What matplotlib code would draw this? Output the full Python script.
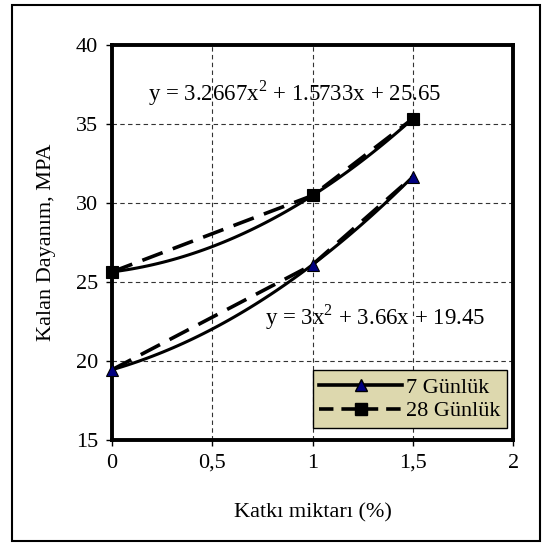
import numpy as np
import matplotlib
matplotlib.use("Agg")
import matplotlib.pyplot as plt
from matplotlib.lines import Line2D
from matplotlib.patches import Rectangle

# data
katki = [0, 1, 1.5]
gun7 = [19.45, 26.11, 31.69]
gun28 = [25.65, 30.49, 35.36]
labels = ["7 Günlük", "28 Günlük"]
eq7 = "y = 3x$^2$ + 3.66x + 19.45"
eq28 = "y = 3.2667x$^2$ + 1.5733x + 25.65"
xticks = [0, 0.5, 1, 1.5, 2]
xticklabels = ["0", "0,5", "1", "1,5", "2"]
yticks = [15, 20, 25, 30, 35, 40]

plt.rcParams["font.family"] = ["Liberation Serif", "DejaVu Serif"]
plt.rcParams["mathtext.fontset"] = "custom"
plt.rcParams["mathtext.rm"] = "Liberation Serif"

fig = plt.figure(figsize=(5.45, 5.45), dpi=100)
fig.patches.append(Rectangle((0.022, 0.008), 0.968, 0.982, transform=fig.transFigure,
                             fill=False, lw=1.5, ec="black"))
ax = fig.add_axes([0.2055, 0.1927, 0.736, 0.724])

xs = np.linspace(0, 1.5, 60)
dash = (6, 3)
for y, mk, mc in [(gun7, "^", "#000080"), (gun28, "s", "black")]:
    coef = np.polyfit(katki, y, 2)
    ax.plot(xs, np.polyval(coef, xs), color="black", lw=2.2, zorder=3)
    ax.plot(katki, y, color="black", lw=2.6, ls=(0, dash), zorder=3)
    ax.plot(katki, y, ls="none", marker=mk, ms=9, mfc=mc, mec="black",
            mew=0.8, zorder=4, clip_on=False)

ax.text(0.18, 36.95, eq28, fontsize=16.5, va="center")
ax.text(0.765, 22.8, eq7, fontsize=16.5, va="center")

ax.set_xlim(0, 2)
ax.set_ylim(15, 40)
ax.set_xticks(xticks)
ax.set_xticklabels(xticklabels)
ax.set_yticks(yticks)
ax.tick_params(labelsize=16, length=4, width=1, direction="out", pad=6)
ax.grid(True, color="#333333", lw=0.8, ls=(0, (4, 3)))
for s in ax.spines.values():
    s.set_linewidth(2.8)

ax.set_xlabel("Katkı miktarı (%)", fontsize=16, labelpad=22)
ax.set_ylabel("Kalan Dayanım, MPA", fontsize=16, labelpad=14)

handles = [
    Line2D([], [], color="black", lw=2.6, marker="^", ms=9, mfc="#000080", mec="black"),
    Line2D([], [], color="black", lw=2.6, ls=(0, (4, 2.2)), marker="s", ms=8,
           mfc="black", mec="black"),
]
leg = ax.legend(handles, labels, loc="lower right", bbox_to_anchor=(0.985, 0.03),
                fontsize=16, handlelength=3.7, handletextpad=0.2, borderpad=0.3,
                labelspacing=0.15, fancybox=False, framealpha=1, borderaxespad=0)
leg.get_frame().set_facecolor("#DDD8AE")
leg.get_frame().set_edgecolor("black")
leg.get_frame().set_linewidth(1.0)

fig.savefig("out.png", dpi=100)
